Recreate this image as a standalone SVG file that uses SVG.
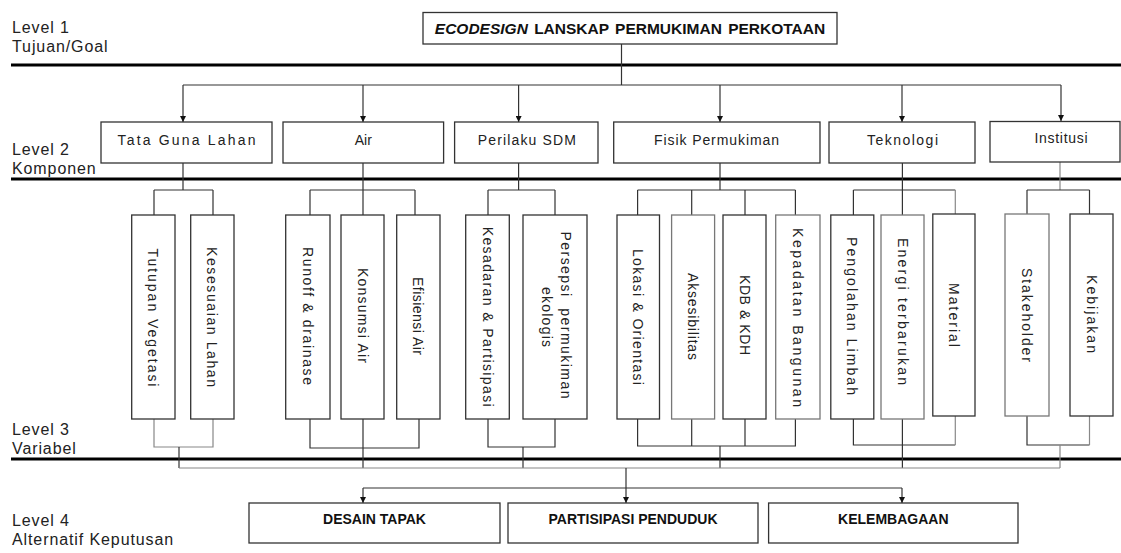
<svg xmlns="http://www.w3.org/2000/svg" width="1121" height="553" viewBox="0 0 1121 553">
<style>
.box{fill:#fff;stroke:#333;stroke-width:1.3}
.gbox{fill:#fff;stroke:#777;stroke-width:1.3}
.thick{stroke:#000;stroke-width:3}
.c{stroke:#333;stroke-width:1.2;fill:none}
.g{stroke:#888;stroke-width:1.2;fill:none}
.lvl{font-family:"Liberation Sans",Arial,sans-serif;font-size:16px;letter-spacing:0.9px;fill:#222}
.l2{font-family:"Liberation Sans",Arial,sans-serif;font-size:14px;fill:#222;text-anchor:middle}
.l3{font-family:"Liberation Sans",Arial,sans-serif;font-size:14px;fill:#222;text-anchor:middle;dominant-baseline:central}
.bt{font-family:"Liberation Sans",Arial,sans-serif;font-weight:bold;font-size:14px;fill:#111;text-anchor:middle}
</style>
<defs>
<marker id="ah" viewBox="0 0 10 10" refX="10" refY="5" markerWidth="7" markerHeight="6" markerUnits="userSpaceOnUse" orient="auto">
<path d="M0,0 L10,5 L0,10 z" fill="#111"/>
</marker>
</defs>
<rect width="1121" height="553" fill="#fff"/>

<g id="levels">
<line class="thick" x1="11" y1="65" x2="1121" y2="65"/>
<line class="thick" x1="11" y1="179" x2="1121" y2="179"/>
<line class="thick" x1="11" y1="459" x2="1121" y2="459"/>
<text class="lvl" x="12" y="33">Level 1</text>
<text class="lvl" x="12" y="51.5">Tujuan/Goal</text>
<text class="lvl" x="12" y="155">Level 2</text>
<text class="lvl" x="12" y="174">Komponen</text>
<text class="lvl" x="12" y="435">Level 3</text>
<text class="lvl" x="12" y="453.5">Variabel</text>
<text class="lvl" x="12" y="526">Level 4</text>
<text class="lvl" x="12" y="545">Alternatif Keputusan</text>
</g>

<g id="connectors">
<!-- level 1 to level 2 -->
<line class="c" x1="621.5" y1="44" x2="621.5" y2="85"/>
<line class="c" x1="183" y1="85" x2="1061" y2="85"/>
<line class="c" x1="183" y1="85" x2="183" y2="122" marker-end="url(#ah)"/>
<line class="c" x1="363" y1="85" x2="363" y2="122" marker-end="url(#ah)"/>
<line class="c" x1="518.6" y1="85" x2="518.6" y2="122" marker-end="url(#ah)"/>
<line class="c" x1="720" y1="85" x2="720" y2="122" marker-end="url(#ah)"/>
<line class="c" x1="902" y1="85" x2="902" y2="122" marker-end="url(#ah)"/>
<line class="c" x1="1061" y1="85" x2="1061" y2="121" marker-end="url(#ah)"/>
<!-- level 2 to level 3 -->
<path class="c" d="M183,163 V190 M154,190 H213 M154,190 V215 M213,190 V215"/>
<path class="c" d="M363,163 V215 M310,190 H415 M310,190 V215 M415,190 V215"/>
<path class="c" d="M518.6,163 V190 M488,190 H555 M488,190 V215 M555,190 V215"/>
<path class="c" d="M720,163 V190 M637.6,190 H795.4 M637.6,190 V215 M691.7,190 V215 M745,190 V215 M795.4,190 V215"/>
<path class="c" d="M902.4,163 V215 M853.4,190 H955.3 M853.4,190 V215"/>
<path class="g" d="M955.3,190 V214"/>
<path class="g" d="M1060,162 V190"/>
<path class="c" d="M1027,190 H1089.5 M1027,190 V214 M1089.5,190 V214"/>
<!-- level 3 joins -->
<path class="g" d="M154,419 V447 H213 V419"/>
<path class="c" d="M179,447 V468"/>
<path class="c" d="M310,419 V448 H419 V419 M363,419 V468"/>
<path class="c" d="M488,419 V447 H555 V419 M523,447 V468"/>
<path class="c" d="M637.6,419 V446 H795.4 V419 M691.7,419 V446 M745,419 V446 M720,446 V468"/>
<path class="c" d="M853.4,419 V445 H955.3 M902.4,419 V468"/>
<path class="g" d="M955.3,416 V445"/>
<path class="c" d="M1027,416 V445 H1089.5"/>
<path class="g" d="M1089.5,416 V445 M1060,445 V468"/>
<!-- collector to level 4 -->
<path class="g" d="M179,468 H1060"/>
<line class="c" x1="626" y1="468" x2="626" y2="488"/>
<line class="c" x1="363" y1="488" x2="902" y2="488"/>
<line class="c" x1="363" y1="488" x2="363" y2="503" marker-end="url(#ah)"/>
<line class="c" x1="626" y1="488" x2="626" y2="503" marker-end="url(#ah)"/>
<line class="c" x1="902" y1="488" x2="902" y2="503" marker-end="url(#ah)"/>
</g>

<g id="goal">
<rect class="box" x="423" y="12.5" width="414" height="31.5"/>
<text x="630" y="33.8" text-anchor="middle" font-family="'Liberation Sans',Arial,sans-serif" font-weight="bold" font-size="15.5" fill="#111" word-spacing="2"><tspan font-style="italic">ECODESIGN</tspan> LANSKAP PERMUKIMAN PERKOTAAN</text>
</g>

<g id="tata-guna-lahan"><rect class="box" x="101" y="122" width="171" height="41"/><text class="l2" x="186.5" y="144.5" textLength="138">Tata Guna Lahan</text></g>
<g id="air"><rect class="box" x="283" y="122" width="160.6" height="41"/><text class="l2" x="363.3" y="144.5">Air</text></g>
<g id="perilaku-sdm"><rect class="box" x="454.6" y="122" width="143.4" height="41"/><text class="l2" x="526.8" y="144.5" textLength="98">Perilaku SDM</text></g>
<g id="fisik-permukiman"><rect class="box" x="613.7" y="122" width="206.3" height="41"/><text class="l2" x="716.5" y="144.5" textLength="125">Fisik Permukiman</text></g>
<g id="teknologi"><rect class="box" x="829" y="122" width="146" height="41"/><text class="l2" x="902.5" y="144.5" textLength="71">Teknologi</text></g>
<g id="institusi"><rect class="box" x="990" y="121.5" width="130" height="40.5"/><text class="l2" x="1061" y="143" textLength="53">Institusi</text></g>

<g id="tutupan-vegetasi"><rect class="box" x="131.7" y="215" width="43.3" height="204"/><text class="l3" x="153.4" y="317.5" transform="rotate(90 153.4 317.5)" textLength="138">Tutupan Vegetasi</text></g>
<g id="kesesuaian-lahan"><rect class="box" x="190.7" y="215" width="43.3" height="204"/><text class="l3" x="212.4" y="317" transform="rotate(90 212.4 317)" textLength="140">Kesesuaian Lahan</text></g>
<g id="runoff"><rect class="box" x="285.7" y="215" width="44.3" height="204"/><text class="l3" x="307.9" y="316" transform="rotate(90 307.9 316)" textLength="138">Runoff &amp; drainase</text></g>
<g id="konsumsi-air"><rect class="box" x="341" y="215" width="43" height="204"/><text class="l3" x="362.5" y="315.5" transform="rotate(90 362.5 315.5)" textLength="95">Konsumsi Air</text></g>
<g id="efisiensi-air"><rect class="box" x="396.7" y="215" width="43.3" height="204"/><text class="l3" x="418.4" y="316" transform="rotate(90 418.4 316)" textLength="78">Efisiensi Air</text></g>
<g id="kesadaran"><rect class="box" x="465.7" y="215" width="43.6" height="204"/><text class="l3" x="487.5" y="316.7" transform="rotate(90 487.5 316.7)" textLength="180">Kesadaran &amp; Partisipasi</text></g>
<g id="persepsi"><rect class="box" x="523" y="215" width="64" height="204"/><text class="l3" x="565.5" y="315" transform="rotate(90 565.5 315)" textLength="167" xml:space="preserve">Persepsi  permukiman</text><text class="l3" x="546.5" y="317" transform="rotate(90 546.5 317)" textLength="60">ekologis</text></g>
<g id="lokasi"><rect class="box" x="617" y="215" width="42.5" height="204"/><text class="l3" x="638.3" y="317" transform="rotate(90 638.3 317)" textLength="136">Lokasi &amp; Orientasi</text></g>
<g id="aksesibilitas"><rect class="gbox" x="671.6" y="215" width="43" height="204"/><text class="l3" x="693.1" y="316.5" transform="rotate(90 693.1 316.5)" textLength="87">Aksesibilitas</text></g>
<g id="kdb-kdh"><rect class="box" x="723" y="215" width="43" height="204"/><text class="l3" x="744.5" y="315" transform="rotate(90 744.5 315)" textLength="80">KDB &amp; KDH</text></g>
<g id="kepadatan"><rect class="gbox" x="775.7" y="215" width="44.3" height="204"/><text class="l3" x="797.9" y="317.5" transform="rotate(90 797.9 317.5)" textLength="179">Kepadatan Bangunan</text></g>
<g id="pengolahan-limbah"><rect class="box" x="830.8" y="215" width="43" height="204"/><text class="l3" x="852.3" y="316" transform="rotate(90 852.3 316)" textLength="158">Pengolahan Limbah</text></g>
<g id="energi"><rect class="gbox" x="881" y="215" width="43" height="204"/><text class="l3" x="902.5" y="311.5" transform="rotate(90 902.5 311.5)" textLength="147">Energi terbarukan</text></g>
<g id="material"><rect class="box" x="932.8" y="214" width="42.2" height="202"/><text class="l3" x="953.9" y="315" transform="rotate(90 953.9 315)" textLength="64">Material</text></g>
<g id="stakeholder"><rect class="gbox" x="1005" y="214" width="44" height="202"/><text class="l3" x="1027" y="315" transform="rotate(90 1027 315)" textLength="94">Stakeholder</text></g>
<g id="kebijakan"><rect class="box" x="1070" y="214" width="43" height="202"/><text class="l3" x="1091.5" y="314" transform="rotate(90 1091.5 314)" textLength="78">Kebijakan</text></g>

<g id="desain-tapak"><rect class="box" x="249" y="503" width="251" height="40"/><text class="bt" x="374.5" y="524">DESAIN TAPAK</text></g>
<g id="partisipasi-penduduk"><rect class="box" x="508" y="503" width="250" height="40"/><text class="bt" x="633" y="524">PARTISIPASI PENDUDUK</text></g>
<g id="kelembagaan"><rect class="box" x="768.6" y="503" width="249.4" height="40"/><text class="bt" x="893.3" y="524">KELEMBAGAAN</text></g>
</svg>
